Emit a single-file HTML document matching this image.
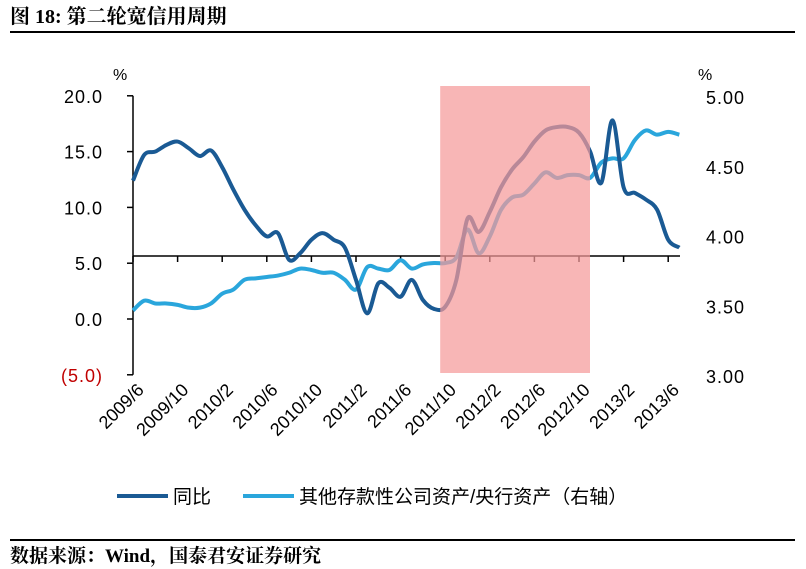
<!DOCTYPE html>
<html><head><meta charset="utf-8"><style>
body{margin:0;background:#fff;width:806px;height:569px;overflow:hidden}
svg{display:block}
.t{font-family:"Liberation Sans","Noto Sans CJK SC",sans-serif}
.s{font-family:"Liberation Serif","Noto Serif CJK SC",serif;font-weight:bold}
</style></head><body>
<svg id="c" width="806" height="569">
<text class="s" x="10" y="23" font-size="20">图 18:  第二轮宽信用周期</text>
<rect x="10" y="31" width="785" height="2" fill="#000"/>
<g id="plot"></g>
<rect x="10" y="539" width="785" height="2" fill="#000"/>
<text class="s" x="10" y="562" font-size="19">数据来源：Wind，国泰君安证券研究</text>
</svg>
<script>
const months=["2009/6","2009/7","2009/8","2009/9","2009/10","2009/11","2009/12","2010/1","2010/2","2010/3","2010/4","2010/5","2010/6","2010/7","2010/8","2010/9","2010/10","2010/11","2010/12","2011/1","2011/2","2011/3","2011/4","2011/5","2011/6","2011/7","2011/8","2011/9","2011/10","2011/11","2011/12","2012/1","2012/2","2012/3","2012/4","2012/5","2012/6","2012/7","2012/8","2012/9","2012/10","2012/11","2012/12","2013/1","2013/2","2013/3","2013/4","2013/5","2013/6","2013/7"];
const yoy=[12.4,14.7,15.0,15.6,15.9,15.3,14.6,15.1,13.6,11.6,9.8,8.4,7.4,7.7,5.3,5.9,7.1,7.7,7.1,6.4,3.5,0.5,3.2,2.8,2.0,3.5,1.7,0.9,1.1,3.5,9.0,7.8,9.6,11.8,13.4,14.5,15.9,16.9,17.2,17.2,16.7,15.0,12.2,17.8,11.8,11.3,10.7,9.8,7.1,6.4];
const ratio=[3.47,3.54,3.52,3.52,3.51,3.49,3.49,3.52,3.59,3.62,3.69,3.70,3.71,3.72,3.74,3.77,3.76,3.74,3.74,3.69,3.62,3.78,3.77,3.76,3.83,3.77,3.80,3.81,3.81,3.85,4.05,3.88,4.00,4.19,4.28,4.30,4.38,4.46,4.42,4.44,4.44,4.42,4.53,4.56,4.56,4.69,4.76,4.73,4.75,4.73];
const leftTicks=[20,15,10,5,0,-5];
const leftLabels=["20.0","15.0","10.0","5.0","0.0","(5.0)"];
const rightTicks=[5,4.5,4,3.5,3];
const rightLabels=["5.00","4.50","4.00","3.50","3.00"];
const xLabels=["2009/6","2009/10","2010/2","2010/6","2010/10","2011/2","2011/6","2011/10","2012/2","2012/6","2012/10","2013/2","2013/6"];
const shadeStart="2011/10",shadeEnd="2012/10";

const NS="http://www.w3.org/2000/svg";
const g=document.getElementById('plot');
const X0=133,DX=11.15;
const xi=i=>X0+i*DX;
const xm=m=>xi(months.indexOf(m));
const yL=v=>319-(v)*11.16;
const yR=v=>376-(v-3)*139.5;
function el(t,a,p){const e=document.createElementNS(NS,t);for(const k in a)e.setAttribute(k,a[k]);(p||g).appendChild(e);return e;}
function path(pts){let d="M"+pts[0][0]+","+pts[0][1];for(let i=0;i<pts.length-1;i++){const p0=pts[Math.max(0,i-1)],p1=pts[i],p2=pts[i+1],p3=pts[Math.min(pts.length-1,i+2)];const t=6;d+=` C${p1[0]+(p2[0]-p0[0])/t},${p1[1]+(p2[1]-p0[1])/t} ${p2[0]-(p3[0]-p1[0])/t},${p2[1]-(p3[1]-p1[1])/t} ${p2[0]},${p2[1]}`;}return d;}
// axes
let e=el('line',{x1:X0,y1:yL(20),x2:X0,y2:yL(-5),stroke:'#000','stroke-width':1.5});


leftTicks.forEach((v,i)=>{const y=yL(v);
 let t=el('line',{x1:X0-6,y1:y,x2:X0,y2:y,stroke:'#000','stroke-width':1.5});
 
 
 let l=el('text',{x:X0-30,y:y+7,'text-anchor':'end','font-size':18,fill:v<0?'#c00000':'#000',class:'t','letter-spacing':'1'});
 l.textContent=leftLabels[i];
 
 
});
rightTicks.forEach((v,i)=>{const y=yR(v);
 let l=el('text',{x:745,y:y+7,'text-anchor':'end','font-size':18,class:'t','letter-spacing':'1'});
 l.textContent=rightLabels[i];
 
 
});
e=el('text',{x:113,y:80,'font-size':16,class:'t'});e.textContent='%';


e=el('text',{x:698,y:80,'font-size':16,class:'t'});e.textContent='%';


e=el('line',{x1:X0,y1:256,x2:680,y2:256,stroke:'#000','stroke-width':1.5});


xLabels.forEach(m=>{const x=xm(m);
 let t=el('line',{x1:x,y1:256,x2:x,y2:262,stroke:'#000','stroke-width':1.5});
 
 
 let l=el('text',{x:0,y:0,'text-anchor':'end','font-size':18,class:'t',transform:`translate(${x+12},${391}) rotate(-45)`});
 l.textContent=m;
 
 
});
e=el('path',{d:path(ratio.map((v,i)=>[xi(i),yR(v)])),fill:'none',stroke:'#2aa6dc','stroke-width':4,'stroke-linejoin':'round'});


e=el('path',{d:path(yoy.map((v,i)=>[xi(i),yL(v)])),fill:'none',stroke:'#1a5a94','stroke-width':4,'stroke-linejoin':'round'});


e=el('rect',{x:xm(shadeStart)-5,y:86,width:xm(shadeEnd)-xm(shadeStart)+16,height:287,fill:'#f59a9a','fill-opacity':0.72});


// legend
e=el('line',{x1:117,y1:496,x2:168,y2:496,stroke:'#1a5a94','stroke-width':4});


e=el('text',{x:173,y:503,'font-size':19,class:'t'});e.textContent='同比';


e=el('line',{x1:243,y1:496,x2:294,y2:496,stroke:'#2aa6dc','stroke-width':4});


e=el('text',{x:299,y:503,'font-size':19,class:'t'});e.textContent='其他存款性公司资产/央行资产（右轴）';


</script>
</body></html>
